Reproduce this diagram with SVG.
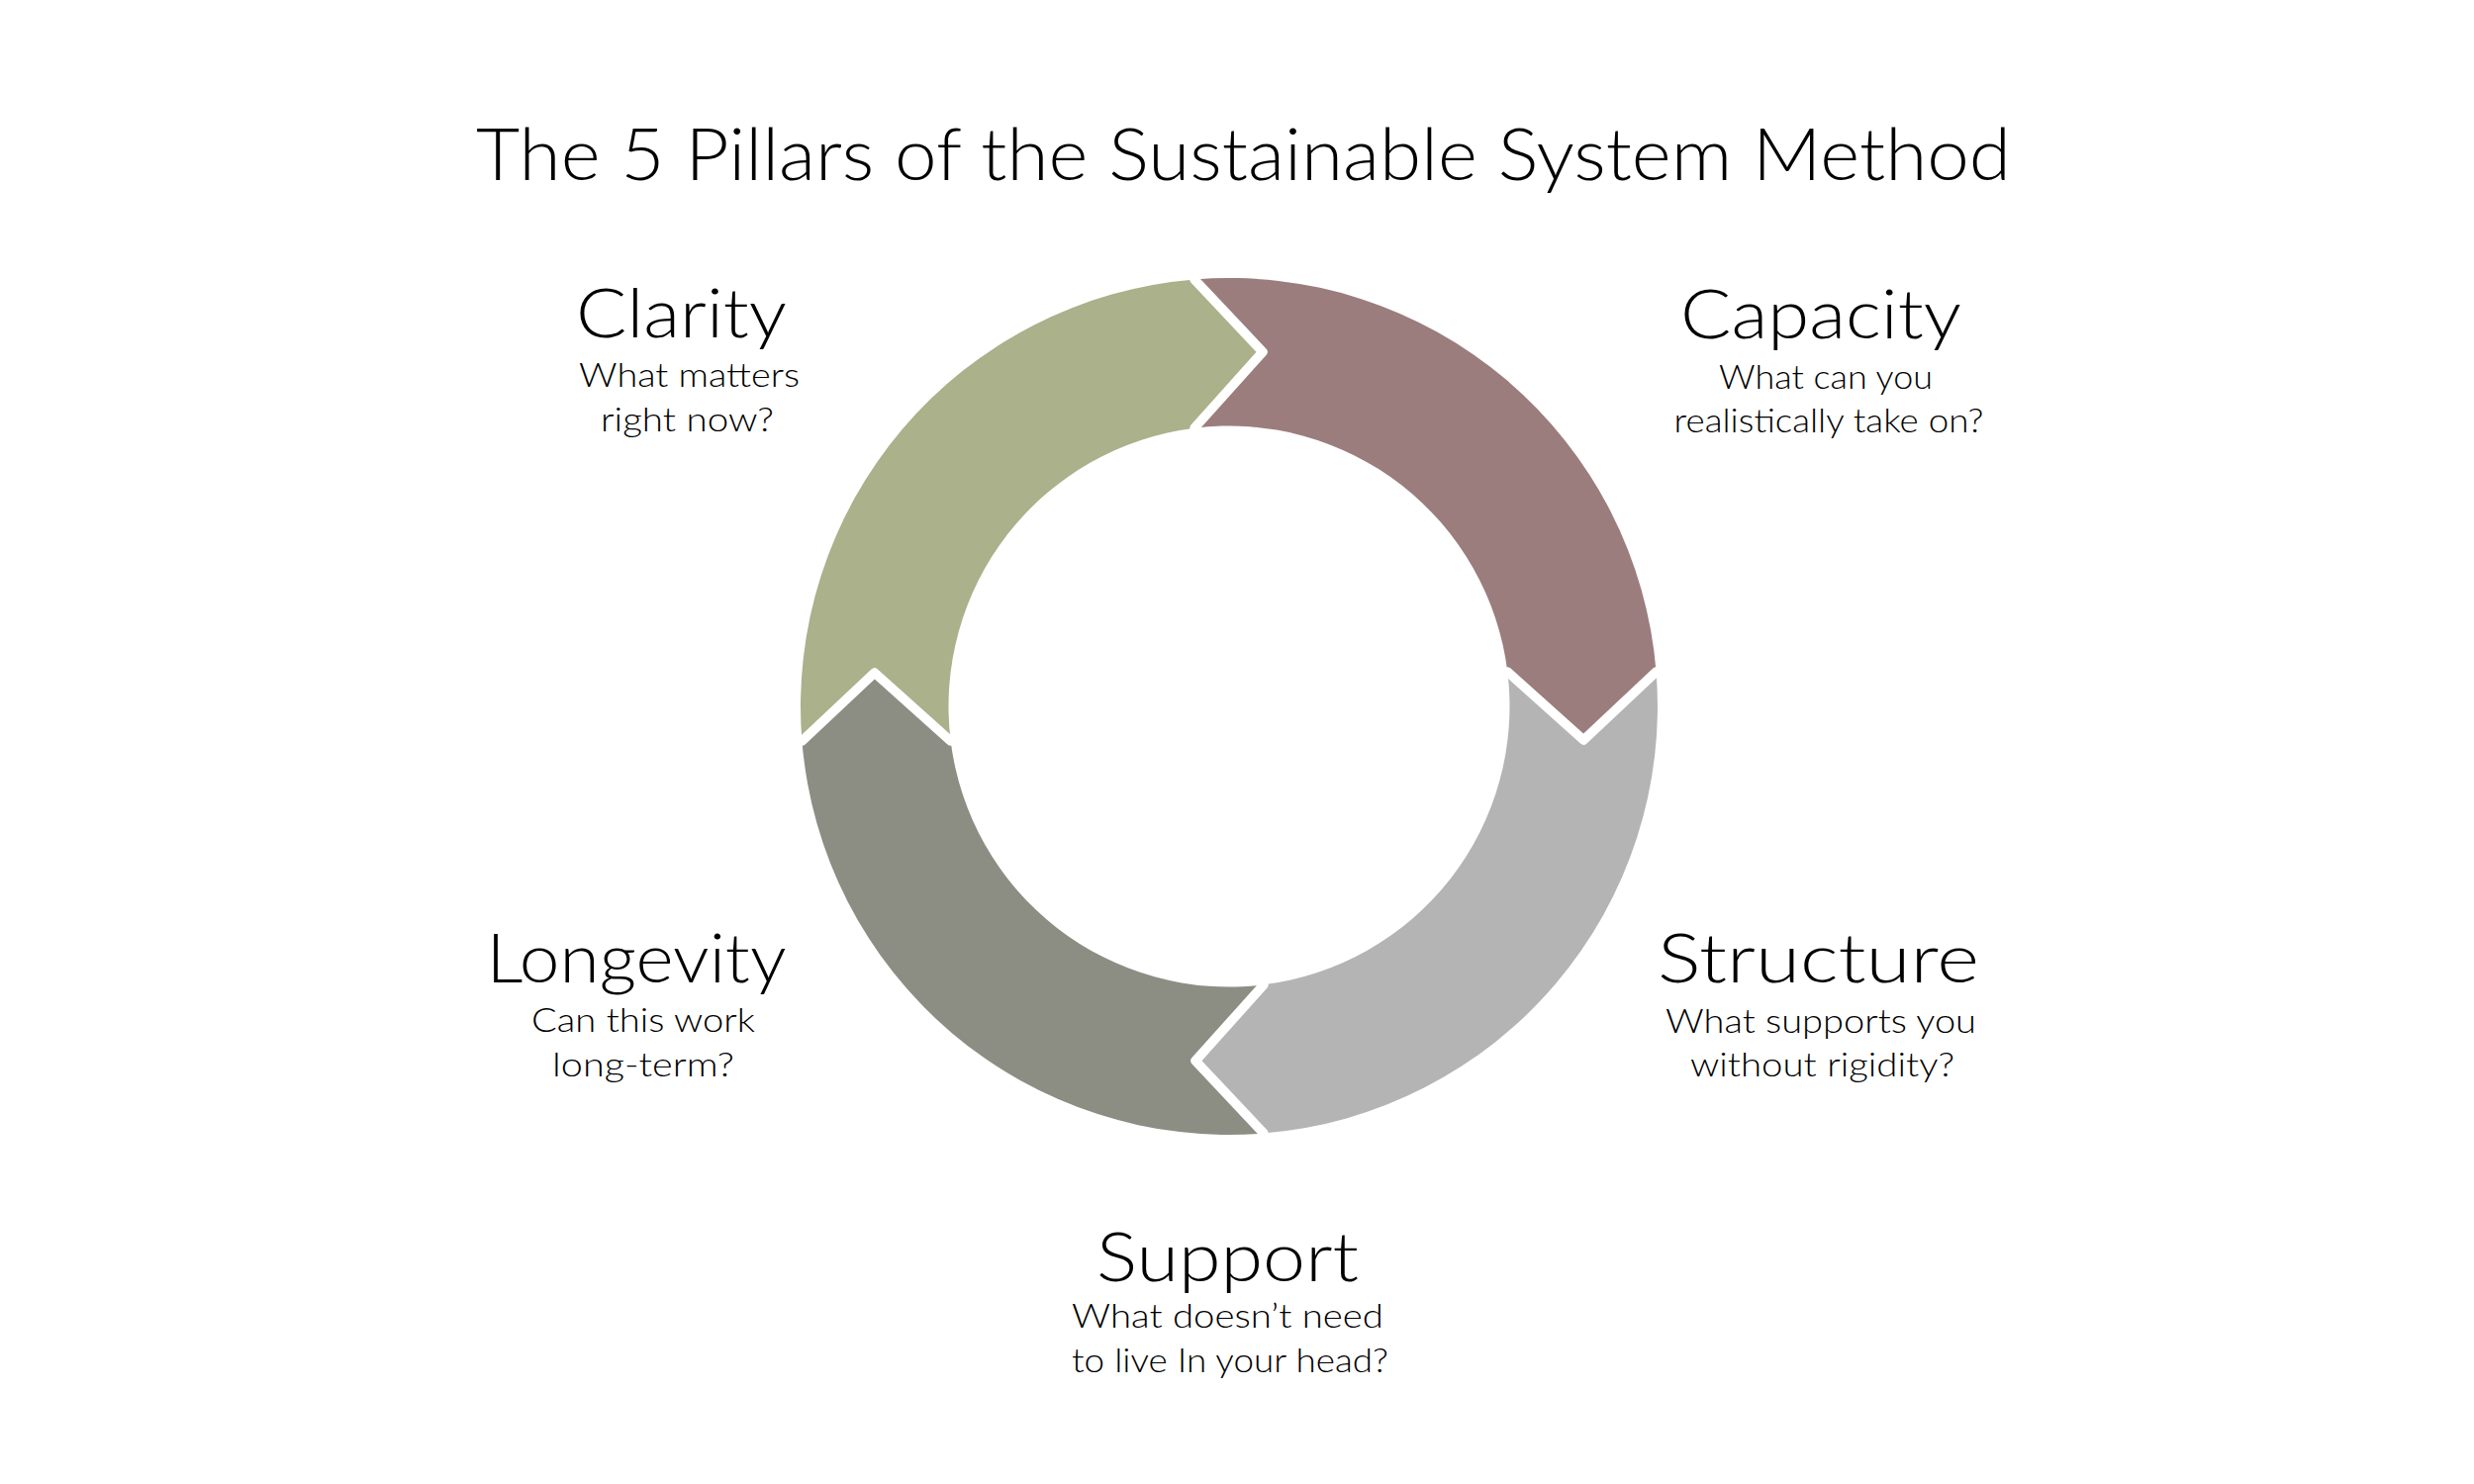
<svg xmlns="http://www.w3.org/2000/svg" width="2500" height="1500" viewBox="0 0 2500 1500">
<style>
  text { font-family: "Lato", "Open Sans", "Liberation Sans", sans-serif; font-weight: 300; fill: #000; text-anchor: middle; }
  .title { font-size: 72px; }
  .head { font-size: 68px; }
  .sub { font-size: 34px; }
  .div { fill: none; stroke: #fff; stroke-width: 9.5; stroke-linejoin: round; stroke-linecap: round; }
</style>
<rect width="2500" height="1500" fill="#fff"/>
<text class="title" x="1256.5" y="182" textLength="1551" lengthAdjust="spacingAndGlyphs">The 5 Pillars of the Sustainable System Method</text>

<g id="clarity">
  <path fill="#AAB18B" d="M810.42,749 A433,433 0 0 1 1207,282.42 L1276,355.75 L1207,432.67 A283.5,283.5 0 0 0 960.67,749 L883.75,680 Z"/>
  <text class="head" x="688.5" y="341" textLength="213" lengthAdjust="spacingAndGlyphs">Clarity</text>
  <text class="sub" x="696.5" y="391" textLength="223" lengthAdjust="spacingAndGlyphs">What matters</text>
  <text class="sub" x="694.5" y="436" textLength="175" lengthAdjust="spacingAndGlyphs">right now?</text>
</g>

<g id="capacity">
  <path fill="#9B7D7D" d="M1207,282.42 A433,433 0 0 1 1673.58,679 L1600.25,748 L1523.33,679 A283.5,283.5 0 0 0 1207,432.67 L1276,355.75 Z"/>
  <text class="head" x="1840" y="342" textLength="284" lengthAdjust="spacingAndGlyphs">Capacity</text>
  <text class="sub" x="1845" y="393" textLength="216" lengthAdjust="spacingAndGlyphs">What can you</text>
  <text class="sub" x="1848" y="437" textLength="313" lengthAdjust="spacingAndGlyphs">realistically take on?</text>
</g>

<g id="structure">
  <path fill="#B4B4B4" d="M1673.58,679 A433,433 0 0 1 1277,1145.58 L1208,1072.25 L1277,995.33 A283.5,283.5 0 0 0 1523.33,679 L1600.25,748 Z"/>
  <text class="head" x="1837.5" y="993" textLength="325" lengthAdjust="spacingAndGlyphs">Structure</text>
  <text class="sub" x="1840" y="1044" textLength="314" lengthAdjust="spacingAndGlyphs">What supports you</text>
  <text class="sub" x="1841.5" y="1088" textLength="267" lengthAdjust="spacingAndGlyphs">without rigidity?</text>
</g>

<g id="support">
  <text class="head" x="1240.5" y="1295" textLength="265" lengthAdjust="spacingAndGlyphs">Support</text>
  <text class="sub" x="1240.5" y="1342" textLength="315" lengthAdjust="spacingAndGlyphs">What doesn’t need</text>
  <text class="sub" x="1243" y="1387" textLength="320" lengthAdjust="spacingAndGlyphs">to live In your head?</text>
</g>

<g id="longevity">
  <path fill="#8C8E83" d="M1277,1145.58 A433,433 0 0 1 810.42,749 L883.75,680 L960.67,749 A283.5,283.5 0 0 0 1277,995.33 L1208,1072.25 Z"/>
  <text class="head" x="643" y="993" textLength="303" lengthAdjust="spacingAndGlyphs">Longevity</text>
  <text class="sub" x="650" y="1043" textLength="226" lengthAdjust="spacingAndGlyphs">Can this work</text>
  <text class="sub" x="650" y="1088" textLength="184" lengthAdjust="spacingAndGlyphs">long-term?</text>
</g>

<g id="connectors">
  <polyline class="div" points="1207,282.42 1276,355.75 1207,432.67"/>
  <polyline class="div" points="1673.58,679 1600.25,748 1523.33,679"/>
  <polyline class="div" points="1277,1145.58 1208,1072.25 1277,995.33"/>
  <polyline class="div" points="810.42,749 883.75,680 960.67,749"/>
</g>
</svg>
